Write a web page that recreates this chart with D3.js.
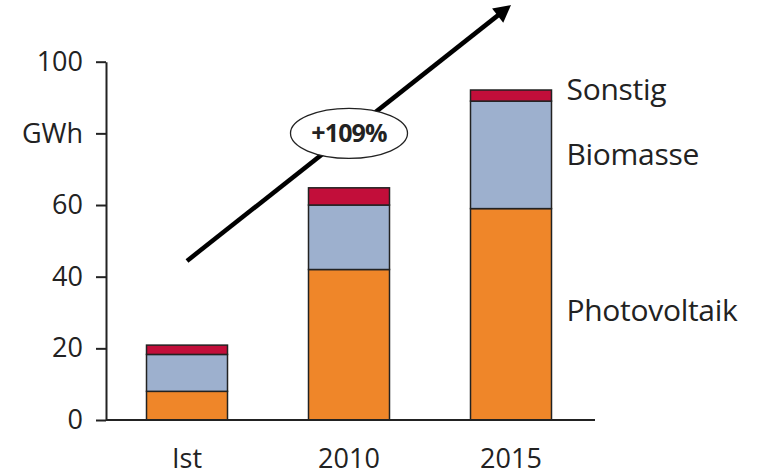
<!DOCTYPE html>
<html><head><meta charset="utf-8">
<script src="https://cdn.jsdelivr.net/npm/d3@7"></script>
<style>body{margin:0;background:#fff}svg{display:block}text{font-family:"Open Sans",sans-serif;fill:#222}</style>
</head><body>
<svg id="c" width="765" height="475"></svg>
<script>
const categories = ["Ist", "2010", "2015"];
const photovoltaik = [8, 42, 59];
const biomasse = [10.3, 18, 30];
const sonstig = [2.6, 4.8, 3.1];
const seriesNames = ["Photovoltaik", "Biomasse", "Sonstig"];
const seriesColors = ["#EF8629", "#9DB0CE", "#C20E3A"];
const yTickValues = [0, 20, 40, 60, 80, 100];
const yTickLabels = ["0", "20", "40", "60", "GWh", "100"];
const growthLabel = "+109%";
// arrow annotation in data units: from Ist to 2015
const arrowFrom = {cat: "Ist", value: 44.4};
const arrowTo = {cat: "2015", value: 115.8};
const badge = {cat: "2010", value: 80};

const svg = d3.select("#c");
const y = d3.scaleLinear().domain([0, 100]).range([420, 61.7]);
const x = d3.scaleBand().domain(categories).range([106, 592]).paddingInner(0.5).paddingOuter(0.25);

const rows = categories.map((c, i) => ({cat: c, Photovoltaik: photovoltaik[i], Biomasse: biomasse[i], Sonstig: sonstig[i]}));
const stack = d3.stack().keys(seriesNames)(rows);

// bars
const g = svg.append("g");
stack.forEach((layer, li) => {
  g.selectAll(null).data(layer).join("rect")
    .attr("x", d => x(d.data.cat))
    .attr("width", x.bandwidth())
    .attr("y", d => y(d[1]))
    .attr("height", d => y(d[0]) - y(d[1]))
    .attr("fill", seriesColors[li])
    .attr("stroke", "#222")
    .attr("stroke-width", 1.5);
});

// y axis
const ya = svg.append("g").attr("transform", "translate(106,0)")
  .call(d3.axisLeft(y).tickValues(yTickValues).tickFormat((d, i) => yTickLabels[i]).tickSize(10).tickSizeOuter(0).tickPadding(13));
ya.selectAll("path,line").attr("stroke", "#222").attr("stroke-width", 2);
ya.selectAll("text").attr("font-size", 27).attr("font-family", '"Open Sans",sans-serif').attr("fill", "#222");

// baseline
svg.append("line").attr("x1", 106).attr("x2", 595).attr("y1", y(0)).attr("y2", y(0))
  .attr("stroke", "#222").attr("stroke-width", 2);

// x labels
svg.selectAll(null).data(categories).join("text")
  .attr("x", d => x(d) + x.bandwidth() / 2)
  .attr("y", 468)
  .attr("text-anchor", "middle")
  .attr("font-size", 27)
  .text(d => d);

// arrow
const ax1 = x(arrowFrom.cat) + x.bandwidth() / 2, ay1 = y(arrowFrom.value);
const ax2 = x(arrowTo.cat) + x.bandwidth() / 2, ay2 = y(arrowTo.value);
const ang = Math.atan2(ay2 - ay1, ax2 - ax1);
const headLen = 17, headW = 9;
const bx = ax2 - headLen * Math.cos(ang), by = ay2 - headLen * Math.sin(ang);
svg.append("line").attr("x1", ax1).attr("y1", ay1).attr("x2", bx + 2 * Math.cos(ang)).attr("y2", by + 2 * Math.sin(ang))
  .attr("stroke", "#000").attr("stroke-width", 4.5);
svg.append("path")
  .attr("d", `M${ax2},${ay2}L${bx - headW * Math.sin(ang)},${by + headW * Math.cos(ang)}L${bx + headW * Math.sin(ang)},${by - headW * Math.cos(ang)}Z`)
  .attr("fill", "#000");

// badge
const ex = x(badge.cat) + x.bandwidth() / 2, ey = y(badge.value);
svg.append("ellipse").attr("cx", ex).attr("cy", ey).attr("rx", 58.5).attr("ry", 25)
  .attr("fill", "#fff").attr("stroke", "#222").attr("stroke-width", 1.3);
svg.append("text").attr("x", ex).attr("y", ey).attr("dy", "0.35em").attr("text-anchor", "middle")
  .attr("font-size", 25).attr("font-weight", "bold").attr("letter-spacing", -0.8).text(growthLabel);

// series labels beside last bar
const last = categories.length - 1;
const lx = x(categories[last]) + x.bandwidth() + 15;
const labelShift = [-4, 0, -6];
stack.forEach((layer, li) => {
  const d = layer[last];
  svg.append("text").attr("x", lx).attr("y", (y(d[0]) + y(d[1])) / 2 + labelShift[li])
    .attr("dy", "0.35em").attr("font-size", 30).attr("letter-spacing", -0.3).text(seriesNames[li]);
});
</script>
</body></html>
